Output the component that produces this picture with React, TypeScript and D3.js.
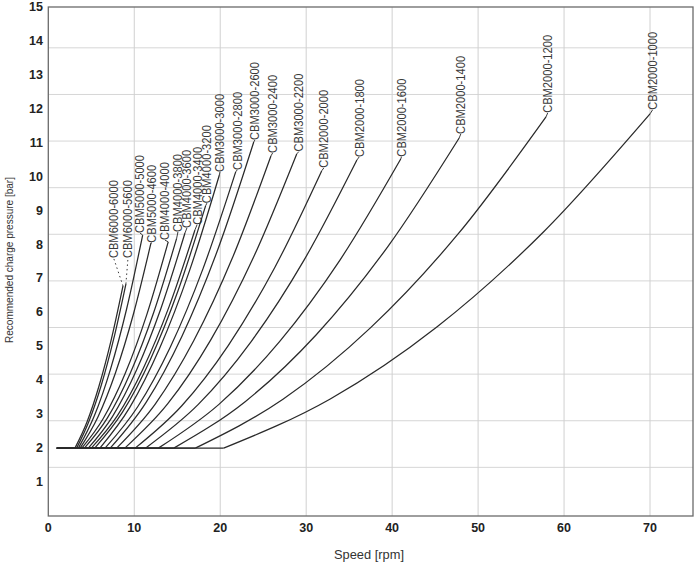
import React from "react";
import * as d3 from "d3";

// Model names (steepest curve first)
const models = [
  "CBM6000-6000", "CBM6000-5600", "CBM5000-5000", "CBM5000-4600",
  "CBM4000-4000", "CBM4000-3800", "CBM4000-3600", "CBM4000-3400", "CBM4000-3200",
  "CBM3000-3000", "CBM3000-2800", "CBM3000-2600", "CBM3000-2400", "CBM3000-2200",
  "CBM2000-2000", "CBM2000-1800", "CBM2000-1600", "CBM2000-1400", "CBM2000-1200", "CBM2000-1000",
];

// Speed [rpm] values
const speedPoints: number[][] = [
  [1, 3.1, 4.5, 5.9, 7.29, 8.69],
  [1, 3.3, 4.73, 6.17, 7.6, 9.03],
  [1, 3.5, 5.37, 7.24, 9.11, 10.98],
  [1, 3.7, 5.76, 7.82, 9.88, 11.94],
  [1, 3.9, 6.41, 8.93, 11.44, 13.95],
  [1, 4.2, 6.88, 9.57, 12.25, 14.93],
  [1, 4.65, 7.46, 10.28, 13.09, 15.9],
  [1, 5.0, 8.02, 11.03, 14.05, 17.06],
  [1, 5.4, 8.63, 11.85, 15.08, 18.3],
  [1, 6.0, 9.48, 12.95, 16.43, 19.9],
  [1, 6.6, 10.4, 14.2, 18.0, 21.8],
  [1, 7.2, 11.38, 15.55, 19.73, 23.9],
  [1, 7.95, 12.44, 16.93, 21.41, 25.9],
  [1, 8.9, 13.9, 18.9, 23.9, 28.9],
  [1, 10.1, 15.53, 20.95, 26.38, 31.8],
  [1, 11.3, 17.45, 23.6, 29.75, 35.9],
  [1, 12.8, 19.85, 26.9, 33.95, 41.0],
  [1, 14.6, 22.9, 31.2, 39.5, 47.8],
  [1, 17.1, 27.3, 37.5, 47.7, 57.9],
  [1, 20.4, 32.8, 45.2, 57.6, 70],
];

// Recommended charge pressure [bar] at those speeds
const pressurePoints: number[][] = [
  [2, 2, 2.77, 3.83, 5.16, 6.78],
  [2, 2, 2.79, 3.86, 5.21, 6.84],
  [2, 2, 2.96, 4.33, 6.1, 8.28],
  [2, 2, 2.91, 4.22, 5.93, 8.04],
  [2, 2, 2.88, 4.19, 5.92, 8.08],
  [2, 2, 2.89, 4.23, 5.99, 8.18],
  [2, 2, 2.93, 4.31, 6.11, 8.34],
  [2, 2, 2.95, 4.34, 6.17, 8.43],
  [2, 2, 3.06, 4.6, 6.63, 9.14],
  [2, 2, 3.2, 4.94, 7.23, 10.05],
  [2, 2, 3.22, 4.98, 7.29, 10.14],
  [2, 2, 3.35, 5.3, 7.86, 11.02],
  [2, 2, 3.3, 5.17, 7.6, 10.61],
  [2, 2, 3.31, 5.19, 7.64, 10.67],
  [2, 2, 3.25, 5.03, 7.34, 10.17],
  [2, 2, 3.29, 5.14, 7.54, 10.49],
  [2, 2, 3.29, 5.14, 7.55, 10.52],
  [2, 2, 3.37, 5.35, 7.94, 11.14],
  [2, 2, 3.44, 5.55, 8.32, 11.76],
  [2, 2, 3.45, 5.57, 8.37, 11.85],
];

// Bottom-centre of each curve label (speed, pressure)
const labelAnchors: [number, number][] = [
  [7.6, 7.6], [9.27, 7.6], [10.66, 8.34], [12.06, 8.05],
  [13.57, 8.13], [15.08, 8.37], [16.13, 8.49], [17.3, 8.58], [18.45, 9.22],
  [19.97, 10.14], [21.98, 10.2], [24.03, 11.08], [26.1, 10.7], [29.15, 10.74],
  [32.06, 10.26], [36.16, 10.58], [41.09, 10.59], [47.99, 11.26], [58.1, 11.88], [70.3, 11.97],
];

// Leader style per curve: dotted for the two CBM6000 curves
const dottedLeader = [true, true, false, false, false, false, false, false, false, false,
  false, false, false, false, false, false, false, false, false, false];

const xTicks = [0, 10, 20, 30, 40, 50, 60, 70];
const yTicks = [1, 2, 3, 4, 5, 6, 7, 8, 9, 10, 11, 12, 13, 14, 15];
const gridRows = [1, 2, 3, 4, 5, 6, 7, 8, 9, 10];

const W = 694;
const H = 564;

export default function App() {
  const x = d3.scaleLinear().domain([0, 75]).range([48.3, 693]);
  const y = d3.scaleLinear().domain([0, 15]).range([516, 7]);
  const gridY = d3.scaleLinear().domain([0, 11]).range([y(0.06), y(15.17)]);

  const rise = d3
    .line<[number, number]>()
    .x((d) => x(d[0]))
    .y((d) => y(d[1]))
    .curve(d3.curveMonotoneX);
  const straight = d3
    .line<[number, number]>()
    .x((d) => x(d[0]))
    .y((d) => y(d[1]));

  const font = "'Liberation Sans', Arial, sans-serif";

  return (
    <svg
      width={W}
      height={H}
      style={{ position: "absolute", left: 0, top: 0, background: "#fff" }}
      fontFamily={font}
    >
      <rect x={0} y={0} width={W} height={H} fill="#fff" />
      {/* grid */}
      {gridRows.map((k) => (
        <line key={"gy" + k} x1={x(0)} x2={x(75)} y1={gridY(k)} y2={gridY(k)} stroke="#d6d6d6" strokeWidth={1} />
      ))}
      {xTicks.filter((t) => t > 0).map((t) => (
        <line key={"gx" + t} x1={x(t)} x2={x(t)} y1={y(0)} y2={y(15)} stroke="#d0d0d0" strokeWidth={1} />
      ))}
      {/* frame */}
      <rect x={x(0)} y={y(15)} width={x(75) - x(0)} height={y(0) - y(15)} fill="none" stroke="#6a6a6a" strokeWidth={1.3} />

      {/* curves */}
      {models.map((m, i) => {
        const pts: [number, number][] = speedPoints[i].map((s, j) => [s, pressurePoints[i][j]]);
        const flat = pts.slice(0, 2);
        const up = pts.slice(1);
        const end = pts[pts.length - 1];
        const lab = labelAnchors[i];
        const lx = x(lab[0]);
        const ly = y(lab[1]);
        return (
          <g key={m}>
            <path d={straight(flat) || ""} fill="none" stroke="#2a2a2a" strokeWidth={1.25} />
            <path d={rise(up) || ""} fill="none" stroke="#2a2a2a" strokeWidth={1.25} />
            <line
              x1={x(end[0])}
              y1={y(end[1])}
              x2={lx}
              y2={ly}
              stroke="#3a3a3a"
              strokeWidth={1}
              strokeDasharray={dottedLeader[i] ? "1.5 3" : undefined}
            />
            <text
              transform={`translate(${lx},${ly}) rotate(-90)`}
              dominantBaseline="central"
              fontSize={13}
              textLength={78}
              lengthAdjust="spacingAndGlyphs"
              fill="#3a3a3a"
            >
              {m}
            </text>
          </g>
        );
      })}

      {/* y tick labels */}
      {yTicks.map((t) => (
        <text key={"yt" + t} x={43} y={y(t)} textAnchor="end" dominantBaseline="central" fontSize={12.5} fontWeight="bold" fill="#222">
          {t}
        </text>
      ))}
      {/* x tick labels */}
      {xTicks.map((t) => (
        <text key={"xt" + t} x={x(t)} y={528} textAnchor="middle" dominantBaseline="central" fontSize={12.5} fontWeight="bold" fill="#222">
          {t}
        </text>
      ))}

      {/* axis titles */}
      <text x={369} y={555} textAnchor="middle" dominantBaseline="central" fontSize={12} textLength={70} lengthAdjust="spacingAndGlyphs" fill="#333">
        Speed [rpm]
      </text>
      <text
        transform="translate(8.5,260) rotate(-90)"
        textAnchor="middle"
        dominantBaseline="central"
        fontSize={11.5}
        textLength={166}
        lengthAdjust="spacingAndGlyphs"
        fill="#333"
      >
        Recommended charge pressure [bar]
      </text>
    </svg>
  );
}
